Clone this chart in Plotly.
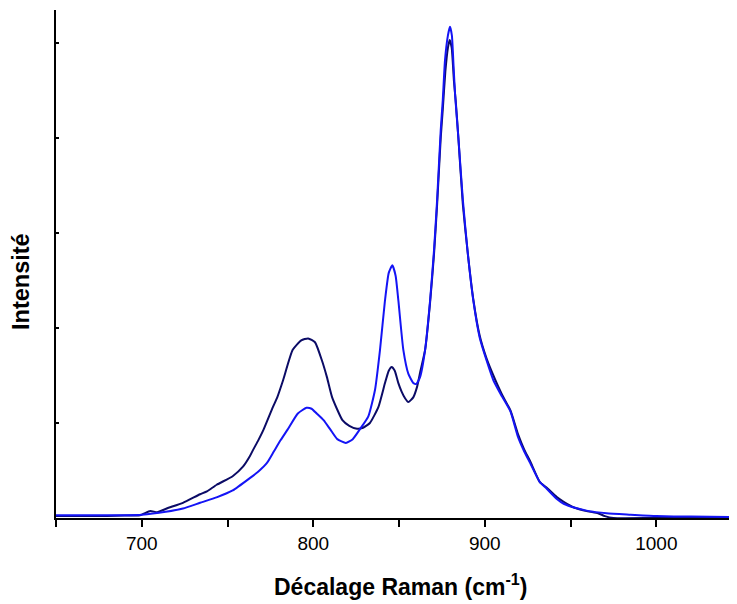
import plotly.graph_objects as go

# Raman shift (cm-1) and intensity (arbitrary units)
dark_x = [650, 670, 690, 699, 705, 709, 714.5, 724, 734, 738, 743.7, 753, 759, 763, 765, 768, 771,
          776.5, 779, 782.4, 788, 793, 797, 801, 805, 808, 811, 817, 821, 825.5, 829, 833, 838,
          841.8, 844, 845.7, 847.5, 849.6, 851.5, 853.5, 855.4, 858.3, 860.5, 862.5, 865.2, 868.1,
          870.4, 872.2, 874.3, 875.5, 877, 878.5, 879.5, 880.7, 882, 883, 884.6, 887.2, 890, 893.3,
          897, 901, 905, 910, 915, 919.4, 923, 926.4, 932, 936, 942, 946, 952, 960, 966, 970, 975,
          1000, 1052]
dark_y = [0.02, 0.02, 0.025, 0.03, 0.074, 0.06, 0.1, 0.16, 0.25, 0.28, 0.35, 0.44, 0.54, 0.65, 0.72,
          0.82, 0.93, 1.17, 1.27, 1.45, 1.77, 1.87, 1.89, 1.85, 1.66, 1.48, 1.27, 1.03, 0.97, 0.94,
          0.95, 1.0, 1.17, 1.42, 1.55, 1.59, 1.55, 1.42, 1.33, 1.26, 1.22, 1.27, 1.38, 1.55, 1.77,
          2.27, 2.78, 3.3, 4.0, 4.3, 4.7, 4.95, 5.03, 4.95, 4.6, 4.4, 4.0, 3.3, 2.8, 2.3, 1.92, 1.68,
          1.5, 1.3, 1.13, 0.88, 0.72, 0.6, 0.38, 0.32, 0.22, 0.17, 0.11, 0.07, 0.05, 0.02, 0.0, 0.0,
          0.0]

blue_x = [650, 670, 690, 700, 714, 724, 734, 744, 753, 763, 768, 773, 777, 781, 785, 791, 796, 799,
          802, 806, 810, 814, 819, 823, 827, 832.1, 836, 838.9, 841.8, 844, 846.1, 848, 849.6,
          852.5, 855.4, 858.3, 860, 862.2, 865.2, 868.1, 870.4, 872.2, 874.3, 875.5, 876.8, 878.5,
          879.7, 880.8, 881.8, 882.7, 884.6, 887.2, 890, 893.3, 897, 901, 905, 910, 915, 919.4,
          923, 926.4, 932, 936, 942, 946, 952, 960, 971, 985, 1000, 1020, 1052]
blue_y = [0.03, 0.03, 0.03, 0.035, 0.066, 0.1, 0.16, 0.22, 0.29, 0.42, 0.49, 0.58, 0.7, 0.82, 0.93,
          1.1, 1.16, 1.15, 1.1, 1.03, 0.93, 0.83, 0.79, 0.83, 0.93, 1.07, 1.35, 1.77, 2.29, 2.58,
          2.66, 2.55, 2.29, 1.77, 1.52, 1.42, 1.41, 1.48, 1.77, 2.29, 2.82, 3.35, 4.08, 4.4, 4.82,
          5.08, 5.17, 5.08, 4.75, 4.45, 4.0, 3.35, 2.8, 2.29, 1.9, 1.66, 1.45, 1.28, 1.12, 0.85, 0.7,
          0.58, 0.38, 0.31, 0.2, 0.15, 0.11, 0.075, 0.05, 0.035, 0.02, 0.015, 0.01]

FONT = "Liberation Sans, Arial, sans-serif"

fig = go.Figure()
fig.add_trace(go.Scatter(x=dark_x, y=dark_y, mode="lines",
                         line=dict(color="#0b0b66", width=2, shape="spline", smoothing=0.5)))
fig.add_trace(go.Scatter(x=blue_x, y=blue_y, mode="lines",
                         line=dict(color="#1414f5", width=2, shape="spline", smoothing=0.5)))

fig.update_layout(
    width=737, height=596,
    margin=dict(l=48, r=0, t=2, b=86),
    paper_bgcolor="white", plot_bgcolor="white",
    showlegend=False,
    font=dict(family=FONT, color="black"),
    xaxis=dict(range=[650, 1051.7], showgrid=False, zeroline=False,
               showline=True, linecolor="black", linewidth=2,
               ticks="outside", ticklen=7, tickwidth=1.5, tickcolor="black",
               tickmode="linear", tick0=700, dtick=100,
               minor=dict(ticks="outside", ticklen=7, tickwidth=1.5, tickcolor="black",
                          tickmode="linear", tick0=750, dtick=100, showgrid=False),
               tickfont=dict(size=19, family=FONT, color="black")),
    yaxis=dict(range=[0, 5.347], showgrid=False, zeroline=False,
               showline=True, linecolor="black", linewidth=2,
               ticks="inside", ticklen=3, tickwidth=1.5, tickcolor="black",
               tickmode="linear", tick0=0, dtick=1, showticklabels=False),
    annotations=[
        dict(text="<b>Décalage Raman (cm<sup>-1</sup>)</b>", xref="paper", yref="paper",
             x=(400 - 56) / 689, y=-0.132, xanchor="center", yanchor="middle", showarrow=False,
             font=dict(size=23, family=FONT, color="black")),
        dict(text="<b>Intensité</b>", xref="paper", yref="paper",
             x=(21 - 56) / 689, y=0.4646, xanchor="center", yanchor="middle", showarrow=False,
             textangle=-90, font=dict(size=23.5, family=FONT, color="black")),
    ],
)

fig.write_html("out.html")
